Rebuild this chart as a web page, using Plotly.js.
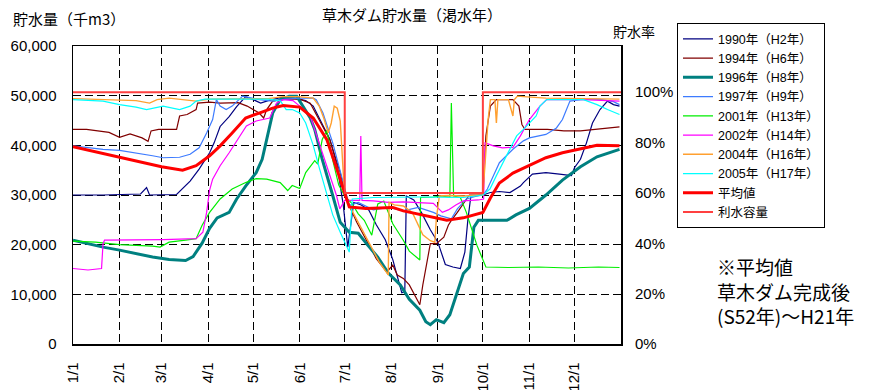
<!DOCTYPE html>
<html><head><meta charset="utf-8">
<script src="https://cdn.plot.ly/plotly-3.0.1.min.js"></script>
<style>body{margin:0;background:#fff}#chart{width:870px;height:390px}</style>
</head><body><div id="chart"></div>
<script>
// x = day of year (0 = 1/1)
const monthDays = [0,31,59,90,120,151,181,212,243,273,304,334];
const monthLabels = ["1/1","2/1","3/1","4/1","5/1","6/1","7/1","8/1","9/1","10/1","11/1","12/1"];
const pctTicks = [0,20,40,60,80,100];
const pctLabels = ["0%","20%","40%","60%","80%","100%"];

const d1990 = [0,20,45,49,51,60,69,78,84,91,94,98,104,109,115,120,125,130,138,147,155,160,164,171,176,180,183,187,192,197,202,208,213,219,221,222,227,232,238,243,248,253,258,261,263,265,273,278,284,291,298,300,306,315,324,332,334,338,342,346,351,356,360,364];
const v1990 = [30000,30000,30200,31500,30000,30000,30100,32800,35200,38500,40500,43800,45800,47800,49800,49200,48500,49000,49600,49500,49000,47900,45500,41300,35800,28000,19500,28500,28000,27000,24000,21000,17000,10300,10500,29800,29000,26500,23000,20500,16000,15500,15200,18500,25000,29800,30000,30500,30700,30500,31800,32500,34200,34500,34200,33900,35500,37200,40500,44500,47200,48900,48200,47900];

const d1994 = [0,9,24,31,38,46,50,52,57,69,71,76,82,83,91,98,110,116,124,127,129,133,140,151,158,164,171,178,182,189,196,202,209,213,216,220,224,229,231,233,236,238,242,247,250,252,256,260,264,273,275,278,282,293,297,299,301,316,327,338,349,364];
const v1994 = [43200,43200,42600,41600,42300,41500,40800,42900,43200,43200,45900,46200,47200,48500,48700,48500,48600,47900,46500,45500,47200,48900,49300,49300,48500,45200,41200,34500,29200,24500,20500,17200,14500,15900,13900,13200,11900,9200,7900,11900,17200,20200,20200,21500,23900,24900,26500,28200,30000,30000,41900,47900,49200,49200,47900,44200,43200,43200,42900,42900,43300,43700];

const d1996 = [0,9,20,31,42,53,64,75,80,86,91,96,104,109,115,122,126,130,133,138,144,149,153,158,161,166,173,178,184,190,196,203,210,218,224,231,235,238,242,247,251,255,260,264,267,270,289,295,304,315,326,338,349,364];
const v1996 = [20900,20200,19500,18900,18200,17500,17000,16800,17600,20300,23300,25400,26500,29200,31800,34500,37200,42500,46500,49200,49900,49900,48000,45500,43200,37200,29900,24500,22500,22300,20000,17500,14300,11900,9000,6800,4500,3900,4900,4300,5900,9800,14200,15500,23500,24900,24900,26000,27300,30000,33000,35700,37700,39200];

const d1997 = [0,20,31,42,53,60,71,78,84,89,93,95.5,98,102,106,113,124,133,142,151,160,162,166.5,173,180,184,190,200,210,220,230,240,245,249,252,256,262,268,273,276,280,284,293,300,304,315,322,326,331,338,350,360,364];
const v1997 = [39900,39200,39000,38500,37900,37500,37600,38200,39500,42500,45200,49200,47900,47200,47900,49900,49200,48900,49300,49500,49500,49200,46500,40500,32500,27900,28500,27000,27500,26800,27500,26500,25800,25500,25200,27200,29200,29700,30000,31200,33900,36500,39200,40900,41500,42200,43500,45200,48900,49200,49300,48800,48200];

const d2001 = [0,15,31,42,53,58,64,75,82,86,91,98,106,115,122,129,138,143,146,151,155,161,163,166,169,173,177,181,186,190,194,199,203,207,213,220,224,231,231.5,240,245,251,252,253.5,258,262,269,275,290,310,330,350,364];
const v2001 = [20700,20500,20000,19900,19700,19500,20500,20900,21200,23900,26500,29200,31200,32500,33300,33200,32500,30900,31900,31300,34500,36900,36200,41200,43000,37000,32000,29800,28200,26200,24900,21900,28200,28800,24200,20900,18700,16900,29500,29600,29800,29600,48500,29800,29500,26500,19900,15500,15400,15500,15300,15500,15400];

const d2002 = [0,10,19,20,21,40,60,82,86.5,89,91,93,98,104,109,115.5,122,126.5,131,135.5,140,146.5,151,158,164,169,175.5,177.7,181,186,191,191.7,192.5,200,210,220,230,240,246,250,255,260,270,273.5,274.5,280,286,293,298,304,311,315.5,340,364];
const v2002 = [15200,14900,15200,20200,20900,20900,21000,21200,22500,26500,31000,33200,35900,38500,40900,43900,44900,45200,45500,48500,49200,49000,47900,45900,40500,35900,29900,27200,28900,28900,28900,41900,28900,28800,28500,28600,28500,28300,26500,27000,28000,28800,29000,29200,40500,39900,39500,39600,41900,45200,47900,49200,49200,48900];

const d2004 = [0,20,42,51,56,64,75,82,91,110,130,140,150,160,164,167,170,172,174,176,178,180,181,184,190,197,204,210,210.5,214,220,226,230,233,238,241,242,244,250,260,273,276.5,278,281,282,283,290,293,294,296,300,315,340,364];
const v2004 = [49400,49200,49000,48500,49200,49500,49200,48900,49300,49300,49400,49800,49800,49500,47900,45500,42500,44500,47900,47500,44900,34500,29900,27900,24500,20500,16500,13900,28500,28000,27800,26500,23800,22000,20800,20500,25200,29800,29900,29800,30000,45200,49200,49200,44500,49200,49200,45900,49200,49900,49800,49500,49400,49300];

const d2005 = [0,20,31,42,49,60,71,78,82,88,110,130,138,142,146,151,155,160,164,169,173,178,182,184,186,200,230,260,273,277.7,282,286.5,291,295.5,300,304,308.5,311,315.5,340,349,356,364];
const v2005 = [49200,48900,48200,47700,47200,47900,47200,47900,48900,49300,49300,49300,49000,47200,47200,46500,44500,40000,35500,30000,26000,22500,19900,18500,29200,29500,29600,29500,30000,31200,33900,36500,39200,41900,43200,44500,45900,47900,49200,49200,48200,47200,46200];

const dAvg = [0,15,31,45,59,73,82,91,98,106,115,124,133,140,151,160,169,175,180,184,195,206,213,220,233,242,249,260,269,273,278,284,293,304,315,326,338,349,364];
const vAvg = [39700,38700,37700,36700,35700,35000,35900,37900,39900,42500,45500,46500,47500,48000,47700,45500,41200,35900,31200,27600,27300,27400,27500,26800,26000,25300,24900,25400,26200,26500,29400,32400,34400,36000,37500,38500,39300,40000,39900];

const dCap = [0,181,181,273,273,365];
const vCap = [50700,50700,30400,30400,50700,50700];

const names = ["1990年（H2年）","1994年（H6年）","1996年（H8年）","1997年（H9年）","2001年（H13年）","2002年（H14年）","2004年（H16年）","2005年（H17年）","平均値","利水容量"];
const xs = [d1990,d1994,d1996,d1997,d2001,d2002,d2004,d2005,dAvg,dCap];
const ys = [v1990,v1994,v1996,v1997,v2001,v2002,v2004,v2005,vAvg,vCap];
const colors = ["#000080","#800000","#008080","#3d7bff","#00ee00","#ff00ff","#ffa030","#00ffff","#ff0000","#ff4040"];
const widths = [1.2,1.2,3,1.2,1.2,1.2,1.4,1.2,3,2];

const traces = names.map((n,i)=>({x:xs[i],y:ys[i],name:n,type:'scatter',mode:'lines',
  line:{color:colors[i],width:widths[i]}}));
// dummy trace for right axis
traces.push({x:[0],y:[0],yaxis:'y2',showlegend:false,mode:'markers',marker:{opacity:0},hoverinfo:'skip'});

const F = "Liberation Sans, Arial, 'Noto Sans CJK JP', sans-serif";
const J = "'Noto Sans CJK JP', sans-serif";
const PL=73, PW=548, PB=344, PH=300;
const px=(x)=>(x-PL)/PW, py=(y)=>(PB-y)/PH;

const layout = {
  width:870,height:390,
  margin:{l:73,r:249,t:46,b:46},
  paper_bgcolor:'#fff',plot_bgcolor:'#fff',
  font:{family:F,color:'#000'},
  title:{text:"草木ダム貯水量（渇水年）",font:{family:J,size:15,color:'#000'},
    x:412/870,xref:'container',xanchor:'center',y:1-16/390,yref:'container',yanchor:'middle'},
  showlegend:true,
  legend:{x:px(677),y:py(21),xanchor:'left',yanchor:'top',bgcolor:'#fff',maxheight:300,
    bordercolor:'#000',borderwidth:1,font:{family:F,size:12.5,color:'#000'},tracegroupgap:0},
  xaxis:{range:[0,365],tickvals:monthDays,ticktext:monthLabels,tickangle:-90,
    tickfont:{size:15,family:F},showgrid:true,gridcolor:'#000',gridwidth:1,griddash:'8px,4px',
    showline:true,mirror:true,linecolor:'#000',linewidth:1.5,zeroline:false,ticks:'',
    ticklabelstandoff:11},
  yaxis:{range:[0,60000],dtick:10000,tickformat:',d',tickfont:{size:15,family:F},
    showgrid:true,gridcolor:'#000',gridwidth:1,griddash:'8px,4px',
    showline:true,mirror:true,linecolor:'#000',linewidth:1.5,zeroline:false,ticks:'',
    ticklabelstandoff:12},
  yaxis2:{overlaying:'y',side:'right',range:[0,60000/50700*100],tickvals:pctTicks,
    ticktext:pctLabels,tickfont:{size:15,family:F},showgrid:false,zeroline:false,showline:false,ticks:'',
    ticklabelstandoff:13},
  annotations:[
    {text:"貯水量（千m3）",xref:'paper',yref:'paper',x:px(11),y:py(16),xanchor:'left',yanchor:'middle',showarrow:false,font:{family:J,size:15,color:'#000'}},
    {text:"貯水率",xref:'paper',yref:'paper',x:px(634),y:py(29),xanchor:'center',yanchor:'middle',showarrow:false,font:{family:J,size:14,color:'#000'}},
    {text:"※平均値<br>草木ダム完成後<br>(S52年)～H21年",xref:'paper',yref:'paper',x:px(715),y:py(291),xanchor:'left',yanchor:'middle',align:'left',showarrow:false,font:{family:J,size:19,color:'#000'}}
  ]
};
Plotly.newPlot('chart',traces,layout,{staticPlot:true,displayModeBar:false});
</script></body></html>
